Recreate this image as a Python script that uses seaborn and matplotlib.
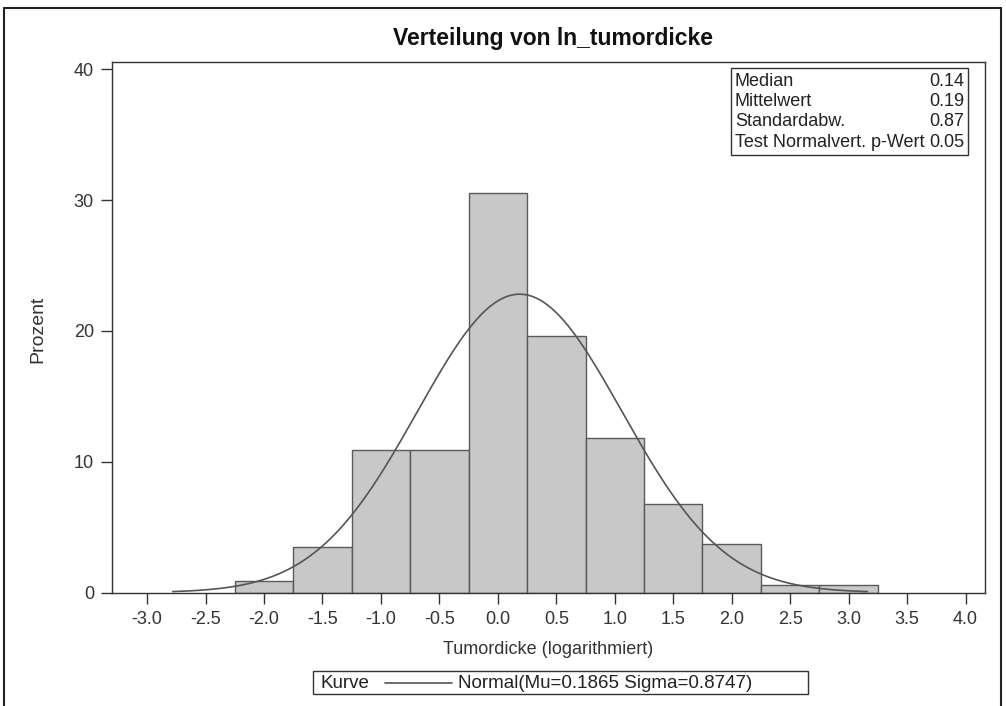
import numpy as np
import pandas as pd
import matplotlib
matplotlib.use("Agg")
import matplotlib.pyplot as plt
import seaborn as sns
from matplotlib.lines import Line2D
from matplotlib.patches import Rectangle

# Histogram bins (centres, width 0.5) and their share in percent
bin_centers = [-2.0, -1.5, -1.0, -0.5, 0.0, 0.5, 1.0, 1.5, 2.0, 2.5, 3.0]
percent = [0.9, 3.5, 10.9, 10.9, 30.5, 19.6, 11.8, 6.8, 3.7, 0.55, 0.6]

x_ticks = [-3.0, -2.5, -2.0, -1.5, -1.0, -0.5, 0.0, 0.5, 1.0, 1.5, 2.0, 2.5, 3.0, 3.5, 4.0]
y_ticks = [0, 10, 20, 30, 40]

# Fitted normal curve
mu = 0.1865
sigma = 0.8747
curve_start, curve_end = -2.78, 3.16

stats_labels = ["Median", "Mittelwert", "Standardabw.", "Test Normalvert. p-Wert"]
stats_values = ["0.14", "0.19", "0.87", "0.05"]

title = "Verteilung von ln_tumordicke"
x_label = "Tumordicke (logarithmiert)"
y_label = "Prozent"
legend_title = "Kurve"
legend_entry = f"Normal(Mu={mu:.4f} Sigma={sigma:.4f})"

W, H = 1006, 706
sns.set_style("ticks")
plt.rcParams["font.family"] = ["Liberation Sans", "DejaVu Sans"]
plt.rcParams["axes.linewidth"] = 1.0
FS = 13

fig = plt.figure(figsize=(W / 100, H / 100), dpi=100)


def fx(px):
    return px / W


def fy(py):
    return 1 - py / H


L, T, R, B = 112, 62, 985, 592.5
ax = fig.add_axes([fx(L), fy(B), fx(R) - fx(L), fy(T) - fy(B)])

df = pd.DataFrame({"x": bin_centers, "pct": percent})
sns.histplot(data=df, x="x", weights="pct", binwidth=0.5, binrange=(-2.25, 3.25),
             color="#C8C8C8", alpha=1.0, edgecolor="#5A5A5A", linewidth=1.0, ax=ax)

xs = np.linspace(curve_start, curve_end, 400)
ys = 100 * 0.5 * np.exp(-0.5 * ((xs - mu) / sigma) ** 2) / (sigma * np.sqrt(2 * np.pi))
sns.lineplot(x=xs, y=ys, color="#555555", linewidth=1.2, ax=ax)

ax.set_xlim(-3.30, 4.166)
ax.set_ylim(0, 40.55)
ax.set_xticks(x_ticks)
ax.set_xticklabels([f"{v:.1f}" for v in x_ticks])
ax.set_yticks(y_ticks)
ax.set_yticklabels([str(v) for v in y_ticks])
ax.tick_params(axis="both", length=8, width=1, color="#333333", labelsize=FS,
               labelcolor="#333333", pad=5)
for s in ax.spines.values():
    s.set_color("#333333")
    s.set_visible(True)
ax.set_xlabel("")
ax.set_ylabel("")

fig.text(fx(553), fy(38), title, ha="center", va="center", fontsize=16.5,
         fontweight="bold", color="#111111")
fig.text(fx(548), fy(650), x_label, ha="center", va="center", fontsize=FS, color="#333333")
fig.text(fx(38), fy(329), y_label, ha="center", va="center", rotation=90,
         fontsize=14, color="#333333")

# statistics inset box
fig.patches.append(Rectangle((fx(731), fy(155)), fx(968) - fx(731), fy(68) - fy(155),
                             transform=fig.transFigure, fill=False,
                             edgecolor="#333333", linewidth=1.0))
for i, (lab, val) in enumerate(zip(stats_labels, stats_values)):
    yy = 81 + i * 20.5
    fig.text(fx(735), fy(yy), lab, ha="left", va="center", fontsize=FS, color="#222222")
    fig.text(fx(964), fy(yy), val, ha="right", va="center", fontsize=FS, color="#222222")

# curve legend box below the axis
fig.patches.append(Rectangle((fx(313), fy(694)), fx(808) - fx(313), fy(671) - fy(694),
                             transform=fig.transFigure, fill=False,
                             edgecolor="#333333", linewidth=1.0))
fig.text(fx(321), fy(683), legend_title, ha="left", va="center", fontsize=13.5,
         color="#222222")
fig.lines.append(Line2D([fx(385), fx(452)], [fy(683), fy(683)], transform=fig.transFigure,
                        color="#555555", linewidth=1.2))
fig.text(fx(458), fy(683), legend_entry, ha="left", va="center", fontsize=13.5,
         color="#222222")

# outer frame of the graphic
for xd, yd in [([4, 4], [8, 720]), ([4, 1001], [8, 8]), ([1001, 1001], [8, 720])]:
    fig.lines.append(Line2D([fx(v) for v in xd], [fy(v) for v in yd],
                            transform=fig.transFigure, color="#222222", linewidth=1.5))

fig.savefig("out.png", dpi=100)
